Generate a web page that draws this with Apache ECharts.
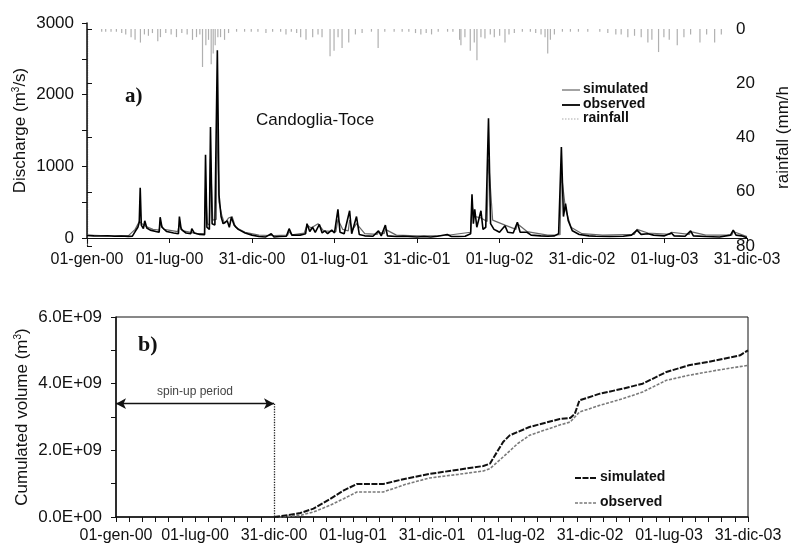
<!DOCTYPE html>
<html><head><meta charset="utf-8">
<script src="https://cdn.jsdelivr.net/npm/echarts@6/dist/echarts.min.js"></script>
<style>html,body{margin:0;padding:0;background:#fff}#c{width:800px;height:553px}</style>
</head><body><div id="c"></div>
<script>
// x positions are months since 01-gen-00
const xTickLabels = ['01-gen-00','01-lug-00','31-dic-00','01-lug-01','31-dic-01','01-lug-02','31-dic-02','01-lug-03','31-dic-03'];

const observedDischarge = [
[0,35],[0.5,30],[1,28],[1.5,32],[2,25],[2.5,27],[3,22],[3.3,25],[3.5,90],[3.7,150],[3.8,220],[3.87,700],[3.95,180],[4.1,130],[4.2,240],[4.35,140],[4.6,110],[5.0,90],[5.25,80],[5.32,290],[5.45,150],[5.8,90],[6.3,70],[6.65,60],[6.72,300],[6.85,120],[7.2,70],[7.55,60],[7.62,130],[7.8,70],[8.2,50],[8.55,45],[8.62,1160],[8.72,150],[8.9,120],[8.98,1550],[9.1,200],[9.3,180],[9.48,2620],[9.6,600],[9.75,300],[9.9,200],[10.2,240],[10.35,150],[10.5,290],[10.7,180],[11.0,120],[11.5,70],[12,40],[12.5,20],[13,15],[13.4,60],[13.6,15],[14,20],[14.5,25],[14.7,130],[14.9,40],[15.5,40],[15.9,60],[16.0,200],[16.2,90],[16.4,150],[16.6,80],[16.9,190],[17.1,70],[17.3,100],[17.5,60],[17.8,110],[18.0,70],[18.25,400],[18.4,80],[18.7,60],[19.1,380],[19.25,60],[19.6,300],[19.8,50],[20.2,30],[20.8,25],[21.2,100],[21.4,30],[21.7,180],[21.85,30],[22.5,20],[23,25],[24,15],[24.5,20],[25,15],[25.5,25],[26.2,50],[26.5,20],[27,20],[27.5,25],[27.9,60],[28.0,610],[28.1,200],[28.2,400],[28.35,150],[28.65,380],[28.8,120],[29.0,150],[29.2,1670],[29.35,200],[29.6,120],[29.8,100],[30.0,80],[30.4,170],[30.6,80],[31.0,70],[31.3,220],[31.5,80],[32.0,80],[32.3,40],[33,30],[33.5,25],[34,30],[34.3,60],[34.5,1270],[34.65,300],[34.8,480],[35.0,240],[35.3,100],[35.8,50],[36.5,30],[37,25],[38,20],[39,25],[39.6,40],[40.0,110],[40.3,50],[40.8,60],[41.2,40],[42,30],[42.5,70],[42.7,30],[43.5,25],[43.9,100],[44.1,30],[45,20],[46,15],[46.8,40],[47.0,110],[47.2,40],[47.6,30],[48,5]
];

const simulatedDischarge = [
[0,40],[1,35],[2,30],[3,30],[3.5,120],[3.8,230],[4.0,200],[4.3,160],[4.8,120],[5.25,110],[5.32,200],[5.6,120],[6.6,90],[6.7,180],[7.0,100],[8,60],[8.55,60],[8.62,700],[8.75,200],[8.9,180],[8.98,1100],[9.15,250],[9.4,260],[9.48,1800],[9.6,500],[9.8,320],[10.0,200],[10.3,280],[10.55,300],[10.8,150],[11.5,80],[12.5,40],[13.3,35],[13.4,50],[13.6,35],[14.6,40],[14.7,90],[14.9,45],[15.8,70],[16.0,180],[16.3,140],[16.8,200],[17.2,100],[18.1,90],[18.25,260],[18.6,120],[19.0,100],[19.1,250],[19.3,110],[19.6,200],[20.2,60],[21.1,50],[21.2,80],[21.6,60],[21.7,120],[22.5,40],[24,30],[26.1,35],[26.2,60],[27.9,80],[28.0,450],[28.2,300],[28.65,280],[29.1,230],[29.2,1100],[29.5,250],[30.4,180],[31.2,120],[31.3,200],[32,90],[33.5,40],[34.4,45],[34.5,900],[34.8,400],[35.2,150],[36,60],[37.5,40],[39.8,50],[40,120],[40.8,70],[42.4,50],[42.5,80],[43.8,50],[43.9,90],[45,40],[46.9,40],[47.0,90],[48,20]
];

const rainfall = [
[1.1,1],[1.4,1],[1.8,1],[2.2,1],[2.6,1.5],[2.9,2],[3.3,3],[3.6,4],[4.0,5],[4.3,2],[4.6,2.5],[4.9,1.5],[5.3,4.5],[5.5,3],[5.9,1.5],[6.3,2],[6.7,3],[7.1,1.5],[7.5,2],[7.9,4],[8.2,3],[8.45,2],[8.65,14],[8.9,6],[9.1,4],[9.3,13],[9.45,9],[9.6,6],[9.8,3],[10.0,3],[10.3,4],[10.6,1.5],[11.2,1],[11.8,1],[12.3,1],[12.8,1],[13.4,1.5],[13.9,1],[14.5,1],[14.9,2],[15.3,1],[15.7,1.5],[16.0,3],[16.4,4],[16.9,3],[17.3,2],[17.6,3],[18.2,10],[18.5,8],[18.8,3],[19.1,7],[19.6,5],[20.1,2],[20.6,1.5],[21.3,1],[21.8,7],[22.3,1],[23,1],[23.6,1],[24.1,1],[24.6,1.5],[25,2],[25.4,1.5],[25.8,2],[26.3,1],[27.0,1],[27.4,1],[27.9,4],[28.0,6],[28.3,3],[28.7,8],[29.0,5],[29.2,11.5],[29.5,3],[29.8,3.5],[30.2,2],[30.5,3],[30.9,2.5],[31.3,5],[31.6,2],[32,1.5],[32.6,1],[33.2,1],[33.6,1.5],[34.0,2],[34.3,3],[34.5,9],[34.7,4],[35.0,2],[35.6,1],[36.2,1],[36.8,1],[37.5,1],[38.4,1],[39.0,1.5],[39.6,2],[40.0,2],[40.5,3],[41.0,2.5],[41.5,3],[42.0,5],[42.3,4],[42.8,8.5],[43.2,3],[43.6,4],[44.2,6],[44.7,3],[45.2,2],[45.9,5],[46.4,2],[47.0,5],[47.5,2]
];

const simulatedVolume = [
[12,0],[12.45,0.02e9],[14,0.12e9],[15,0.25e9],[16.25,0.54e9],[17.3,0.8e9],[18.3,0.99e9],[20.3,0.99e9],[22,1.15e9],[23.8,1.29e9],[26,1.42e9],[27.9,1.53e9],[28.4,1.6e9],[29.4,2.25e9],[29.9,2.45e9],[31.4,2.7e9],[33.7,2.94e9],[34.5,2.97e9],[34.85,3.1e9],[35.2,3.5e9],[36.75,3.7e9],[38.5,3.85e9],[40.0,4.0e9],[41.8,4.35e9],[43.5,4.55e9],[45.6,4.7e9],[47.4,4.85e9],[48,5.0e9]
];
const observedVolume = [
[12,0],[12.45,0],[14,0.05e9],[15,0.15e9],[16.25,0.35e9],[17.3,0.55e9],[18.3,0.75e9],[20.3,0.75e9],[22,0.98e9],[23.8,1.17e9],[26,1.28e9],[27.9,1.38e9],[28.4,1.45e9],[29.4,1.8e9],[30.5,2.2e9],[31.4,2.45e9],[33.7,2.76e9],[34.5,2.85e9],[35.2,3.15e9],[36.75,3.35e9],[38.5,3.55e9],[40.0,3.75e9],[41.8,4.1e9],[43.5,4.25e9],[45.6,4.4e9],[48,4.55e9]
];
const spinUpEnd = 12;
const spinUpArrowLevel = 3.4e9;

const FONT = 'Liberation Sans, Arial, sans-serif';
const TXT = '#111';
const chart = echarts.init(document.getElementById('c'), null, {renderer:'canvas'});
const xLab = v => xTickLabels[Math.round(v/6)] || '';

chart.setOption({
  animation:false,
  backgroundColor:'#fff',
  textStyle:{fontFamily:FONT, color:TXT},
  grid:[
    {left:87, top:23, width:660, height:215},
    {left:87, top:29, width:660, height:217},
    {left:116, top:317, width:632, height:200, show:true, borderColor:'#111', borderWidth:1, backgroundColor:'transparent'}
  ],
  xAxis:[
    {gridIndex:0, type:'value', min:0, max:48, interval:6,
     axisLine:{show:true, onZero:false, lineStyle:{color:'#111', width:1}},
     axisTick:{show:true, length:5, lineStyle:{color:'#111'}},
     axisLabel:{formatter:xLab, fontSize:16, margin:14, color:TXT, fontFamily:FONT},
     splitLine:{show:false}},
    {gridIndex:1, type:'value', min:0, max:48, show:false},
    {gridIndex:2, type:'value', min:0, max:48, interval:6,
     axisLine:{show:true, onZero:false, lineStyle:{color:'#111', width:1.5}},
     axisTick:{show:true, length:5, lineStyle:{color:'#111'}},
     minorTick:{show:true, splitNumber:6, length:5, lineStyle:{color:'#111'}},
     axisLabel:{formatter:xLab, fontSize:16, margin:11, color:TXT, fontFamily:FONT},
     splitLine:{show:false}}
  ],
  yAxis:[
    {gridIndex:0, type:'value', min:0, max:3000, interval:1000,
     axisLine:{show:true, lineStyle:{color:'#111', width:1.5}},
     axisTick:{show:true, length:5, lineStyle:{color:'#111'}},
     minorTick:{show:true, splitNumber:2, length:5, lineStyle:{color:'#111'}},
     axisLabel:{fontSize:17, margin:13, color:TXT, fontFamily:FONT, formatter:v => String(v)},
     splitLine:{show:false},
     name:'{a|Discharge (m}{s|3}{a|/s)}', nameLocation:'middle', nameGap:58, nameRotate:90, nameMoveOverlap:false,
     nameTextStyle:{rich:{a:{fontSize:17, fontFamily:FONT, color:TXT}, s:{fontSize:10, fontFamily:FONT, color:TXT, verticalAlign:'top', padding:[0,0,8,0]}}}},
    {gridIndex:1, type:'value', min:0, max:80, interval:20, inverse:true, position:'right',
     axisLine:{show:true, lineStyle:{color:'#333', width:1.2, type:'dotted'}},
     axisTick:{show:true, length:5, lineStyle:{color:'#111'}},
     axisLabel:{fontSize:17, margin:8, color:TXT, fontFamily:FONT},
     splitLine:{show:false},
     name:'rainfall (mm/h', nameLocation:'middle', nameGap:47, nameRotate:90, nameMoveOverlap:false,
     nameTextStyle:{fontSize:17, fontFamily:FONT, color:TXT}},
    {gridIndex:2, type:'value', min:0, max:6e9, interval:2e9,
     axisLine:{show:true, lineStyle:{color:'#111', width:1.5}},
     axisTick:{show:true, length:5, lineStyle:{color:'#111'}},
     minorTick:{show:true, splitNumber:2, length:5, lineStyle:{color:'#111'}},
     axisLabel:{fontSize:17, margin:14, color:TXT, fontFamily:FONT,
       formatter:v => v===0 ? '0.0E+00' : (v/1e9).toFixed(1)+'E+09'},
     splitLine:{show:false},
     name:'{a|Cumulated volume (m}{s|3}{a|)}', nameLocation:'middle', nameGap:85, nameRotate:90, nameMoveOverlap:false,
     nameTextStyle:{rich:{a:{fontSize:17, fontFamily:FONT, color:TXT}, s:{fontSize:10, fontFamily:FONT, color:TXT, verticalAlign:'top', padding:[0,0,8,0]}}}}
  ],
  series:[
    {name:'rainfall', type:'bar', xAxisIndex:1, yAxisIndex:1, data:rainfall, barWidth:1.2,
     itemStyle:{color:'#b0b0b0'}, z:1, silent:true},
    {name:'simulated', type:'line', xAxisIndex:0, yAxisIndex:0, data:simulatedDischarge, symbol:'none',
     lineStyle:{color:'#666', width:1.2}, z:3},
    {name:'observed', type:'line', xAxisIndex:0, yAxisIndex:0, data:observedDischarge, symbol:'none',
     lineStyle:{color:'#000', width:1.6}, z:4},
    {name:'simulated volume', type:'line', xAxisIndex:2, yAxisIndex:2, data:simulatedVolume, symbol:'none',
     lineStyle:{color:'#111', width:2, type:[6,1.5]}, z:4,
     markLine:{silent:true, symbol:['none','none'], label:{show:false}, animation:false,
       data:[
         [{coord:[0,spinUpArrowLevel], symbol:'arrow', symbolSize:[8,10], lineStyle:{color:'#111', width:1.3, type:'solid'},
           label:{show:true, formatter:'spin-up period', position:'middle', fontSize:12, color:'#444', fontFamily:FONT, distance:6}},
          {coord:[spinUpEnd,spinUpArrowLevel], symbol:'arrow', symbolSize:[8,10]}],
         [{coord:[spinUpEnd,spinUpArrowLevel], lineStyle:{color:'#222', width:1.3, type:'dotted'}},
          {coord:[spinUpEnd,0]}]
       ]}},
    {name:'observed volume', type:'line', xAxisIndex:2, yAxisIndex:2, data:observedVolume, symbol:'none',
     lineStyle:{color:'#7a7a7a', width:1.6, type:[3,1.5]}, z:3}
  ],
  graphic:[
    {type:'text', left:125, top:86, style:{text:'a)', font:'bold 21px "Liberation Serif", "Times New Roman", serif', fill:'#111'}},
    {type:'text', left:138, top:334, style:{text:'b)', font:'bold 22px "Liberation Serif", "Times New Roman", serif', fill:'#111'}},
    {type:'text', left:256, top:112, style:{text:'Candoglia-Toce', font:'17px "Liberation Sans", Arial, sans-serif', fill:'#111'}},
    {type:'line', shape:{x1:562,y1:90,x2:580,y2:90}, style:{stroke:'#666', lineWidth:1.2}},
    {type:'line', shape:{x1:562,y1:105,x2:580,y2:105}, style:{stroke:'#000', lineWidth:1.8}},
    {type:'line', shape:{x1:562,y1:119,x2:580,y2:119}, style:{stroke:'#aaa', lineWidth:1.2, lineDash:[1.5,1.5]}},
    {type:'text', left:583, top:82, style:{text:'simulated', font:'bold 14px "Liberation Sans", Arial, sans-serif', fill:'#111'}},
    {type:'text', left:583, top:97, style:{text:'observed', font:'bold 14px "Liberation Sans", Arial, sans-serif', fill:'#111'}},
    {type:'text', left:583, top:111, style:{text:'rainfall', font:'bold 14px "Liberation Sans", Arial, sans-serif', fill:'#111'}},
    {type:'line', shape:{x1:575,y1:478,x2:597,y2:478}, style:{stroke:'#111', lineWidth:2, lineDash:[6,1.5]}},
    {type:'line', shape:{x1:575,y1:503,x2:597,y2:503}, style:{stroke:'#7a7a7a', lineWidth:1.6, lineDash:[3,1.5]}},
    {type:'text', left:600, top:470, style:{text:'simulated', font:'bold 14px "Liberation Sans", Arial, sans-serif', fill:'#111'}},
    {type:'text', left:600, top:495, style:{text:'observed', font:'bold 14px "Liberation Sans", Arial, sans-serif', fill:'#111'}}
  ]
});
</script>
</body></html>
